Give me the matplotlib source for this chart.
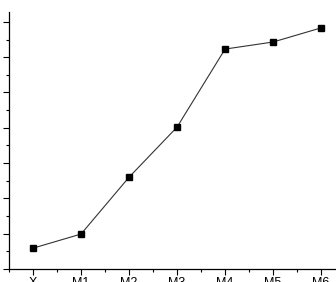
import matplotlib
matplotlib.use('Agg')
import matplotlib.pyplot as plt
from matplotlib.ticker import MultipleLocator

categories = ['X', 'M1', 'M2', 'M3', 'M4', 'M5', 'M6']
values = [0.59, 0.99, 2.6, 4.02, 6.23, 6.43, 6.83]

plt.rcParams['font.family'] = ['Liberation Sans', 'DejaVu Sans']

fig = plt.figure(figsize=(3.36, 2.82), dpi=100)
ax = fig.add_axes([9/336, 13/282, 1 - 9/336, 257/282])
x = list(range(len(categories)))
ax.plot(x, values, color='#333333', lw=0.8, marker='s', ms=4.3,
        mfc='black', mec='black')
ax.set_xlim(-0.5, 6.31)
ax.set_ylim(0, 7.28)
ax.set_xticks(x)
ax.set_xticklabels(categories, fontsize=9)
ax.xaxis.set_minor_locator(MultipleLocator(0.5))
ax.yaxis.set_major_locator(MultipleLocator(1))
ax.yaxis.set_minor_locator(MultipleLocator(0.5))
ax.set_yticklabels([])
ax.tick_params(which='major', direction='out', length=4, width=0.8, pad=2)
ax.tick_params(which='minor', direction='out', length=2, width=0.8)
ax.spines[['top', 'right']].set_visible(False)
for s in ['left', 'bottom']:
    ax.spines[s].set_linewidth(0.9)
fig.savefig('out.png', dpi=100)
